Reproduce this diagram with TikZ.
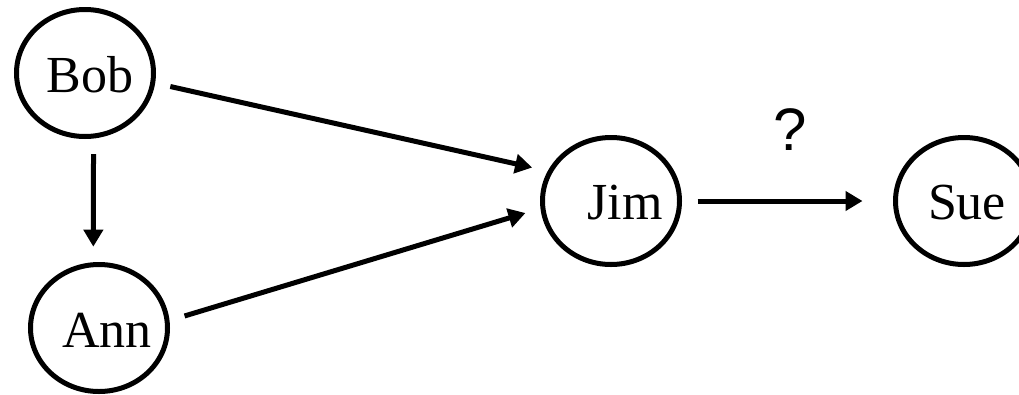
\documentclass[tikz,border=0pt]{standalone}
\usepackage{fontspec}
\setmainfont{Liberation Serif}
\newfontfamily\qfont{Liberation Sans}
\usetikzlibrary{arrows.meta,shapes.geometric}
\begin{document}
\begin{tikzpicture}[x=1pt,y=-1pt,
  person/.style={draw, ellipse, line width=5pt, minimum width=137pt, minimum height=127pt,
    inner sep=0pt, outer sep=18pt},
  every label/.style={font=\fontsize{52}{62}\selectfont, inner sep=0pt, yshift=-2pt},
  link/.style={line width=5pt, -{Triangle[length=17pt,width=19pt]}}]
\useasboundingbox (0,0) rectangle (1019,394);
\node[person, label={[xshift=5pt]center:Bob}] (bob) at (85,73) {};
\node[person, label={[xshift=8pt]center:Ann}] (ann) at (99,328) {};
\node[person, label={[xshift=14pt]center:Jim}] (jim) at (611,201) {};
\node[person, label={[xshift=3pt]center:Sue}] (sue) at (964,201) {};
\draw[link] (bob.-9) -- (jim.157);
\draw[link] (ann.8) -- (jim.188);
\draw[link] (bob.-84) -- (ann.94);
\draw[link, shorten >=15pt] (jim.east) -- (sue.west);
\node[font=\qfont\fontsize{60}{72}\selectfont] (query) at (790,130) {?};
\end{tikzpicture}
\end{document}
